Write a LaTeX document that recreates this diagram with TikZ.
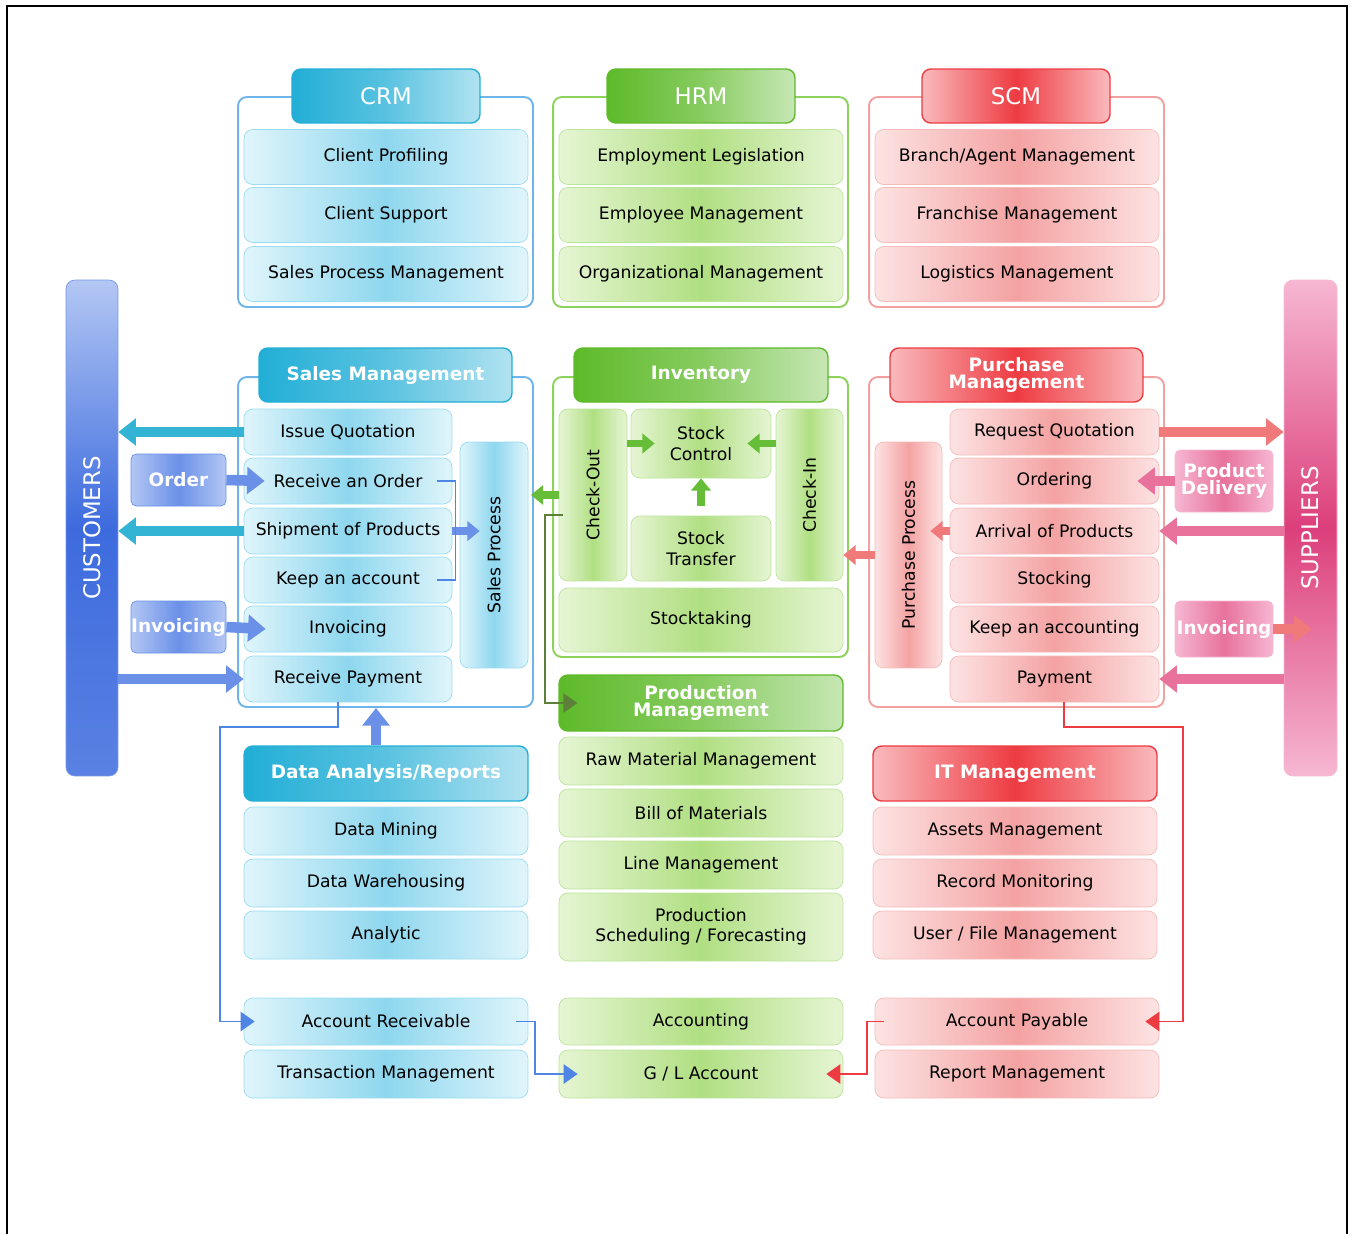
\documentclass[tikz,border=0pt]{standalone}
\usepackage{fontspec}
\setmainfont{DejaVu Sans}
\usetikzlibrary{arrows.meta}

\definecolor{cyanA}{HTML}{E0F5FB}
\definecolor{cyanB}{HTML}{8ED7EE}
\definecolor{cyanD}{HTML}{22AED6}
\definecolor{cyanE}{HTML}{9ADCF0}
\definecolor{cyanF}{HTML}{6FB5EA}
\definecolor{grnA}{HTML}{E6F5D4}
\definecolor{grnB}{HTML}{B0DF82}
\definecolor{grnD}{HTML}{5EBA2A}
\definecolor{grnE}{HTML}{BCE49A}
\definecolor{grnF}{HTML}{8DD25C}
\definecolor{redA}{HTML}{FDE3E3}
\definecolor{redB}{HTML}{F4A2A2}
\definecolor{redD}{HTML}{EE3B42}
\definecolor{redE}{HTML}{F5BBBB}
\definecolor{redF}{HTML}{F3A0A0}
\definecolor{bluA}{HTML}{B3C7F4}
\definecolor{bluD}{HTML}{3D6BDE}
\definecolor{bluL}{HTML}{6A90E8}
\definecolor{bluN}{HTML}{4F86E6}
\definecolor{pnkA}{HTML}{F6B7D2}
\definecolor{pnkD}{HTML}{DC3F7B}
\definecolor{pnkL}{HTML}{E8729C}
\definecolor{cyarr}{HTML}{33B4D4}
\definecolor{grarr}{HTML}{66BE38}
\definecolor{rdarr}{HTML}{F07A7A}
\definecolor{dkgrn}{HTML}{5C7F3A}

\newcommand\fitem{\fontsize{9.8}{11.5}\selectfont}
\newcommand\fhead{\fontsize{10.5}{10}\selectfont\bfseries}
\newcommand\ftop{\fontsize{13}{14}\selectfont}
\newcommand\fbar{\fontsize{13}{14}\selectfont}

\tikzset{
  cframe/.style={draw=cyanF, line width=1.1pt, rounded corners=5pt, fill=white},
  gframe/.style={draw=grnF, line width=1.1pt, rounded corners=5pt, fill=white},
  rframe/.style={draw=redF, line width=1.1pt, rounded corners=5pt, fill=white},
  citem/.style={draw=cyanE, rounded corners=5pt, left color=cyanA, right color=cyanA, middle color=cyanB, font=\fitem, align=center, inner sep=1pt},
  gitem/.style={draw=grnE, rounded corners=5pt, left color=grnA, right color=grnA, middle color=grnB, font=\fitem, align=center, inner sep=1pt},
  ritem/.style={draw=redE, rounded corners=5pt, left color=redA, right color=redA, middle color=redB, font=\fitem, align=center, inner sep=1pt},
  ctab/.style={draw=cyanD, line width=0.8pt, rounded corners=5pt, left color=cyanD, right color=cyanD!35!white, middle color=cyanD!75!white, text=white, font=\fhead, align=center},
  gtab/.style={draw=grnD, line width=0.8pt, rounded corners=5pt, left color=grnD, right color=grnD!35!white, middle color=grnD!75!white, text=white, font=\fhead, align=center},
  rtab/.style={draw=redD, line width=0.8pt, rounded corners=5pt, left color=redD!35!white, right color=redD!35!white, middle color=redD, text=white, font=\fhead, align=center},
  bluebox/.style={draw=bluL, rounded corners=3pt, left color=bluA, right color=bluA, middle color=bluL, text=white, font=\fhead, align=center, inner sep=0pt},
  pinkbox/.style={draw=pnkA, rounded corners=3pt, left color=pnkA, right color=pnkA, middle color=pnkL, text=white, font=\fhead, align=center, inner sep=0pt},
  fat/.style={draw=#1, line width=6pt, -{Triangle[length=10pt,width=15pt]}},
  slim/.style={draw=#1, line width=4.5pt, -{Triangle[length=7pt,width=11pt]}},
  link/.style={draw=#1, line width=1pt, -{Triangle[length=8pt,width=11pt]}},
}

\begin{document}
\begin{tikzpicture}[x=0.02cm,y=-0.02cm]
\useasboundingbox (0,0) rectangle (1354,1234);
\draw[line width=1.2pt] (7,1234) -- (7,6) -- (1347,6) -- (1347,1234);

% top row
\node[cframe, minimum width=5.9cm, minimum height=4.2cm] (crmbox) at (385.5,202) {};
\node[gframe, minimum width=5.9cm, minimum height=4.2cm] (hrmbox) at (700.5,202) {};
\node[rframe, minimum width=5.9cm, minimum height=4.2cm] (scmbox) at (1016.5,202) {};
\node[ctab, minimum width=3.76cm, minimum height=1.08cm, font=\ftop] (crm) at (386,96) {CRM};
\node[gtab, minimum width=3.76cm, minimum height=1.08cm, font=\ftop] (hrm) at (701,96) {HRM};
\node[rtab, minimum width=3.76cm, minimum height=1.08cm, font=\ftop] (scm) at (1016,96) {SCM};
\node[citem, minimum width=5.68cm, minimum height=1.1cm] (cprof) at (386,157) {Client Profiling};
\node[citem, minimum width=5.68cm, minimum height=1.1cm] (csup) at (386,215) {Client Support};
\node[citem, minimum width=5.68cm, minimum height=1.1cm] (cspm) at (386,274) {Sales Process Management};
\node[gitem, minimum width=5.68cm, minimum height=1.1cm] (emleg) at (701,157) {Employment Legislation};
\node[gitem, minimum width=5.68cm, minimum height=1.1cm] (emman) at (701,215) {Employee Management};
\node[gitem, minimum width=5.68cm, minimum height=1.1cm] (orgman) at (701,274) {Organizational Management};
\node[ritem, minimum width=5.68cm, minimum height=1.1cm] (bram) at (1017,157) {Branch/Agent Management};
\node[ritem, minimum width=5.68cm, minimum height=1.1cm] (fram) at (1017,215) {Franchise Management};
\node[ritem, minimum width=5.68cm, minimum height=1.1cm] (logm) at (1017,274) {Logistics Management};

% side bars
\node[draw=bluD!70, rounded corners=5pt, top color=bluA, bottom color=bluD!85!white, middle color=bluD, minimum width=1.04cm, minimum height=9.92cm, text=white, font=\fbar] (cust) at (92,528) {\rotatebox{90}{CUSTOMERS}};
\node[draw=pnkA, rounded corners=5pt, top color=pnkA, bottom color=pnkA, middle color=pnkD, minimum width=1.06cm, minimum height=9.92cm, text=white, font=\fbar] (sup) at (1310.5,528) {\rotatebox{90}{SUPPLIERS}};

% sales management
\node[cframe, minimum width=5.9cm, minimum height=6.6cm] (salesbox) at (385.5,542) {};
\node[ctab, minimum width=5.06cm, minimum height=1.08cm] (salestab) at (385.5,375) {Sales Management};
\node[citem, minimum width=4.16cm, minimum height=0.92cm] (iq) at (348,432) {Issue Quotation};
\node[citem, minimum width=4.16cm, minimum height=0.92cm] (ro) at (348,481) {Receive an Order};
\node[citem, minimum width=4.16cm, minimum height=0.92cm] (sp) at (348,531) {Shipment of Products};
\node[citem, minimum width=4.16cm, minimum height=0.92cm] (ka) at (348,580) {Keep an account};
\node[citem, minimum width=4.16cm, minimum height=0.92cm] (inv) at (348,629) {Invoicing};
\node[citem, minimum width=4.16cm, minimum height=0.92cm] (rp) at (348,679) {Receive Payment};
\node[citem, minimum width=1.36cm, minimum height=4.52cm] (sproc) at (494,555) {\rotatebox{90}{Sales Process}};
\node[bluebox, minimum width=1.9cm, minimum height=1.04cm] (ordbox) at (178.5,480) {Order};
\node[bluebox, minimum width=1.9cm, minimum height=1.04cm] (invl) at (178.5,627) {Invoicing};

% inventory
\node[gframe, minimum width=5.9cm, minimum height=5.6cm] (invbox) at (700.5,517) {};
\node[gtab, minimum width=5.08cm, minimum height=1.08cm] (invtab) at (701,375) {Inventory};
\node[gitem, minimum width=1.36cm, minimum height=3.44cm] (cout) at (593,495) {\rotatebox{90}{Check-Out}};
\node[gitem, minimum width=2.8cm, minimum height=1.38cm] (sctl) at (701,443.5) {Stock\\Control};
\node[gitem, minimum width=2.8cm, minimum height=1.3cm] (stra) at (701,548.5) {Stock\\Transfer};
\node[gitem, minimum width=1.34cm, minimum height=3.44cm] (cin) at (809.5,495) {\rotatebox{90}{Check-In}};
\node[gitem, minimum width=5.68cm, minimum height=1.28cm] (stak) at (701,620) {Stocktaking};

% purchase management
\node[rframe, minimum width=5.9cm, minimum height=6.6cm] (purbox) at (1016.5,542) {};
\node[rtab, minimum width=5.06cm, minimum height=1.08cm] (purtab) at (1016.5,375) {Purchase\\Management};
\node[ritem, minimum width=4.18cm, minimum height=0.92cm] (rq) at (1054.5,432) {Request Quotation};
\node[ritem, minimum width=4.18cm, minimum height=0.92cm] (ordg) at (1054.5,481) {Ordering};
\node[ritem, minimum width=4.18cm, minimum height=0.92cm] (arr) at (1054.5,531) {Arrival of Products};
\node[ritem, minimum width=4.18cm, minimum height=0.92cm] (stk) at (1054.5,580) {Stocking};
\node[ritem, minimum width=4.18cm, minimum height=0.92cm] (kacc) at (1054.5,629) {Keep an accounting};
\node[ritem, minimum width=4.18cm, minimum height=0.92cm] (pay) at (1054.5,679) {Payment};
\node[ritem, minimum width=1.34cm, minimum height=4.52cm] (pproc) at (908.5,555) {\rotatebox{90}{Purchase Process}};
\node[pinkbox, minimum width=1.96cm, minimum height=1.24cm] (pdel) at (1224,481) {Product\\Delivery};
\node[pinkbox, minimum width=1.96cm, minimum height=1.12cm] (invr) at (1224,629) {Invoicing};

% production management
\node[gtab, minimum width=5.68cm, minimum height=1.12cm] (prod) at (701,703) {Production\\Management};
\node[gitem, minimum width=5.68cm, minimum height=0.96cm] (rawm) at (701,761) {Raw Material Management};
\node[gitem, minimum width=5.68cm, minimum height=0.96cm] (bom) at (701,813) {Bill of Materials};
\node[gitem, minimum width=5.68cm, minimum height=0.96cm] (linem) at (701,865) {Line Management};
\node[gitem, minimum width=5.68cm, minimum height=1.36cm] (sched) at (701,927) {Production\\Scheduling / Forecasting};

% data analysis
\node[ctab, minimum width=5.68cm, minimum height=1.1cm] (dar) at (386,773.5) {Data Analysis/Reports};
\node[citem, minimum width=5.68cm, minimum height=0.96cm] (dmin) at (386,831) {Data Mining};
\node[citem, minimum width=5.68cm, minimum height=0.96cm] (dwh) at (386,883) {Data Warehousing};
\node[citem, minimum width=5.68cm, minimum height=0.96cm] (anl) at (386,935) {Analytic};

% it management
\node[rtab, minimum width=5.68cm, minimum height=1.1cm] (itm) at (1015,773.5) {IT Management};
\node[ritem, minimum width=5.68cm, minimum height=0.96cm] (asm) at (1015,831) {Assets Management};
\node[ritem, minimum width=5.68cm, minimum height=0.96cm] (recm) at (1015,883) {Record Monitoring};
\node[ritem, minimum width=5.68cm, minimum height=0.96cm] (ufm) at (1015,935) {User / File Management};

% accounts
\node[citem, minimum width=5.68cm, minimum height=0.94cm] (ar) at (386,1021.5) {Account Receivable};
\node[citem, minimum width=5.68cm, minimum height=0.96cm] (tm) at (386,1074) {Transaction Management};
\node[gitem, minimum width=5.68cm, minimum height=0.94cm] (acc) at (701,1021.5) {Accounting};
\node[gitem, minimum width=5.68cm, minimum height=0.96cm] (gl) at (701,1074) {G / L Account};
\node[ritem, minimum width=5.68cm, minimum height=0.94cm] (apay) at (1017,1021.5) {Account Payable};
\node[ritem, minimum width=5.68cm, minimum height=0.96cm] (repm) at (1017,1074) {Report Management};

% customer side
\draw[fat=cyarr] (iq.west) -- (cust.east |- iq.west);
\draw[fat=bluL] (ordbox.east) -- ([xshift=0.42cm]ro.west);
\draw[fat=cyarr] (sp.west) -- (cust.east |- sp.west);
\draw[fat=bluL] (invl.east) -- ([xshift=0.44cm]inv.west);
\draw[fat=bluL] (cust.east |- rp.west) -- (rp.west);
\draw[slim=bluL] (sp.east) -- ([xshift=0.4cm]sproc.west |- sp.east);
\draw[draw=bluN, line width=0.8pt] ([xshift=-0.3cm]ro.east) -- ([xshift=0.06cm]ro.east) -- ([xshift=0.06cm]ka.east) -- ([xshift=-0.3cm]ka.east);
\draw[fat=bluL] ([xshift=-0.2cm]dar.north) -- ([xshift=-0.2cm]dar.north |- salesbox.south);
\coordinate (rpbend) at (220,727);
\draw[link=bluN] ([xshift=-0.2cm]rp.south) |- (rpbend) |- ([xshift=0.22cm]ar.west);
\draw[link=bluN] ([xshift=-0.24cm]ar.east) -- ([xshift=0.14cm]ar.east) |- ([xshift=0.38cm]gl.west);

% inventory arrows
\draw[slim=grarr] (cout.west) -- ([xshift=-0.06cm]salesbox.east |- cout.west);
\draw[slim=grarr] (cout.east |- sctl.west) -- ([xshift=0.48cm]sctl.west);
\draw[slim=grarr] (cin.west |- sctl.east) -- ([xshift=-0.48cm]sctl.east);
\draw[slim=grarr] ([yshift=0.2cm]stra.north) -- (sctl.south);
\coordinate (cobend) at (545,515);
\draw[link=dkgrn] ([xshift=0.08cm]cout.west |- cobend) -- (cobend) |- ([xshift=0.38cm]prod.west);

% supplier side
\draw[slim=rdarr] (pproc.west) -- (cin.east |- pproc.west);
\draw[slim=rdarr] (arr.west) -- ([xshift=-0.24cm]pproc.east |- arr.west);
\draw[fat=rdarr] (rq.east) -- (sup.west |- rq.east);
\draw[fat=pnkL] (pdel.west) -- ([xshift=-0.44cm]ordg.east);
\draw[fat=pnkL] (sup.west |- arr.east) -- (arr.east);
\draw[fat=rdarr] (invr.east) -- ([xshift=0.56cm]sup.west |- invr.east);
\draw[fat=pnkL] (sup.west |- pay.east) -- (pay.east);
\coordinate (paybend) at (1183,727);
\draw[link=redD] ([xshift=0.19cm]pay.south) |- (paybend) |- ([xshift=-0.28cm]apay.east);
\draw[link=redD] ([xshift=0.18cm]apay.west) -- ([xshift=-0.16cm]apay.west) |- ([xshift=-0.34cm]gl.east);
\end{tikzpicture}
\end{document}
